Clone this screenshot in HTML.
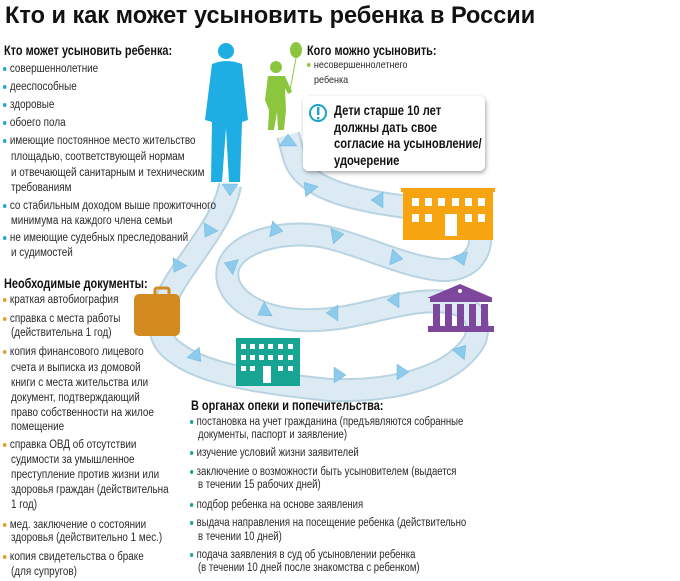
<!DOCTYPE html>
<html><head><meta charset="utf-8"><style>
body{margin:0;width:680px;height:581px;background:#fff;position:relative;overflow:hidden;font-family:"Liberation Sans Narrow","Liberation Sans",sans-serif;color:#2a2a2a}
.t{position:absolute;white-space:nowrap;font-size:11.5px;transform:scaleX(.86);transform-origin:0 50%;line-height:14px}
.bt{transform:scaleX(.83)}
.h{position:absolute;white-space:nowrap;font-weight:bold;font-size:14px;transform:scaleX(.78);transform-origin:0 50%;color:#111}
.d{display:inline-block;width:4px;height:4px;border-radius:50%;margin-right:4px;vertical-align:middle}
.b{background:#22a5d8}.o{background:#e79a25}.g{background:#16a592}.l{background:#8cc63f}
svg{position:absolute;left:0;top:0}
</style></head><body>
<svg width="680" height="581">
<defs><filter id="sh"><feDropShadow dx="1" dy="2" stdDeviation="2" flood-opacity=".35"/></filter></defs>
<path d="M230,185 C225,215 200,245 180,275 C160,305 150,335 175,352 C200,372 250,382 330,390 C400,392 455,375 475,340 C485,310 460,298 420,302 C380,306 350,322 300,320 C255,318 222,295 228,268 C235,240 290,228 330,238 C370,248 400,265 440,270 C475,272 485,245 478,230 C470,212 420,210 380,203 C340,196 305,185 295,160 L288,135" fill="none" stroke="#b8d4e2" stroke-width="24"/>
<path d="M230,185 C225,215 200,245 180,275 C160,305 150,335 175,352 C200,372 250,382 330,390 C400,392 455,375 475,340 C485,310 460,298 420,302 C380,306 350,322 300,320 C255,318 222,295 228,268 C235,240 290,228 330,238 C370,248 400,265 440,270 C475,272 485,245 478,230 C470,212 420,210 380,203 C340,196 305,185 295,160 L288,135" fill="none" stroke="#dcebf3" stroke-width="20"/>
<g fill="#8ccbeb" stroke="#6fb6dc" stroke-width=".5">
<polygon points="-8,-6 8,-6 0,6" transform="translate(230,190)"/>
<polygon points="-8,-6 8,-6 0,6" transform="translate(208,232) rotate(30)"/>
<polygon points="-8,-6 8,-6 0,6" transform="translate(177,267) rotate(30)"/>
<polygon points="-8,-6 8,-6 0,6" transform="translate(197,357) rotate(-40)"/>
<polygon points="-8,-6 8,-6 0,6" transform="translate(340,375) rotate(-90)"/>
<polygon points="-8,-6 8,-6 0,6" transform="translate(403,372) rotate(-90)"/>
<polygon points="-8,-6 8,-6 0,6" transform="translate(462,350) rotate(-140)"/>
<polygon points="-8,-6 8,-6 0,6" transform="translate(393,300) rotate(90)"/>
<polygon points="-8,-6 8,-6 0,6" transform="translate(332,313) rotate(90)"/>
<polygon points="-8,-6 8,-6 0,6" transform="translate(263,312) rotate(60)"/>
<polygon points="-8,-6 8,-6 0,6" transform="translate(230,265) rotate(110)"/>
<polygon points="-8,-6 8,-6 0,6" transform="translate(277,230) rotate(-80)"/>
<polygon points="-8,-6 8,-6 0,6" transform="translate(338,235) rotate(-100)"/>
<polygon points="-8,-6 8,-6 0,6" transform="translate(397,258) rotate(-80)"/>
<polygon points="-8,-6 8,-6 0,6" transform="translate(462,260) rotate(-20)"/>
<polygon points="-8,-6 8,-6 0,6" transform="translate(377,200) rotate(90)"/>
<polygon points="-8,-6 8,-6 0,6" transform="translate(308,187) rotate(140)"/>
<polygon points="-9,6 9,6 0,-6" transform="translate(288,140)"/>
</g>
<g fill="#1faee3"><circle cx="226" cy="51" r="8"/><path d="M212,64 Q226,58 242,64 L248,120 L242,122 L240,182 L229,182 L226,128 L222,182 L211,182 L212,122 L205,120 Z"/></g>
<g fill="#8cc63f"><circle cx="276" cy="67" r="6"/><path d="M268,76 L285,76 L292,92 L288,94 L285,88 L286,110 L284,130 L278,130 L277,112 L274,130 L268,130 L269,110 L265,100 Z"/><ellipse cx="296" cy="50" rx="6" ry="8"/></g>
<line x1="296" y1="58" x2="290" y2="90" stroke="#8cc63f" stroke-width="1"/>
<rect x="303" y="96" width="182" height="75" rx="6" fill="#fff" filter="url(#sh)"/>
<circle cx="318" cy="113" r="8" fill="#fff" stroke="#1aa3c9" stroke-width="2"/>
<rect x="317" y="107" width="2.4" height="8" fill="#1aa3c9"/><rect x="317" y="117" width="2.4" height="2.4" fill="#1aa3c9"/>
<rect x="403" y="190" width="90" height="50" fill="#f6a511"/><rect x="401" y="188" width="94" height="4" fill="#f6a511"/>
<g fill="#fff"><rect x="412" y="198" width="7" height="8"/><rect x="425" y="198" width="7" height="8"/><rect x="438" y="198" width="7" height="8"/><rect x="452" y="198" width="7" height="8"/><rect x="465" y="198" width="7" height="8"/><rect x="478" y="198" width="7" height="8"/><rect x="412" y="214" width="7" height="8"/><rect x="425" y="214" width="7" height="8"/><rect x="445" y="214" width="12" height="22"/><rect x="465" y="214" width="7" height="8"/><rect x="478" y="214" width="7" height="8"/></g>
<g fill="#7d479d"><polygon points="460,284 493,298 427,298"/><rect x="430" y="298" width="62" height="4"/><rect x="433" y="304" width="7" height="22"/><rect x="445" y="304" width="7" height="22"/><rect x="457" y="304" width="7" height="22"/><rect x="469" y="304" width="7" height="22"/><rect x="481" y="304" width="7" height="22"/><rect x="428" y="326" width="66" height="6"/></g>
<circle cx="460" cy="291" r="2" fill="#fff"/>
<rect x="236" y="338" width="64" height="48" fill="#17a493"/>
<g fill="#fff"><rect x="241" y="344" width="5" height="5"/><rect x="250" y="344" width="5" height="5"/><rect x="259" y="344" width="5" height="5"/><rect x="268" y="344" width="5" height="5"/><rect x="278" y="344" width="5" height="5"/><rect x="288" y="344" width="5" height="5"/><rect x="241" y="355" width="5" height="5"/><rect x="250" y="355" width="5" height="5"/><rect x="259" y="355" width="5" height="5"/><rect x="268" y="355" width="5" height="5"/><rect x="278" y="355" width="5" height="5"/><rect x="288" y="355" width="5" height="5"/><rect x="241" y="366" width="5" height="5"/><rect x="250" y="366" width="5" height="5"/><rect x="263" y="366" width="8" height="17"/><rect x="278" y="366" width="5" height="5"/><rect x="288" y="366" width="5" height="5"/></g>
<rect x="155" y="288" width="14" height="8" rx="2" fill="none" stroke="#d38a1e" stroke-width="3"/>
<rect x="134" y="294" width="46" height="42" rx="5" fill="#d38a1e"/>
</svg>

<div class="h" style="left:5px;top:2px;font-size:24px;transform:scaleX(.98)">Кто и как может усыновить ребенка в России</div>

<div class="h" style="left:4px;top:42px">Кто может усыновить ребенка:</div>
<div class="t" style="left:3px;top:62px"><span class="d b"></span>совершеннолетние</div>
<div class="t" style="left:3px;top:80px"><span class="d b"></span>дееспособные</div>
<div class="t" style="left:3px;top:98px"><span class="d b"></span>здоровые</div>
<div class="t" style="left:3px;top:116px"><span class="d b"></span>обоего пола</div>
<div class="t" style="left:3px;top:134px"><span class="d b"></span>имеющие постоянное место жительство</div>
<div class="t" style="left:11px;top:150px">площадью, соответствующей нормам</div>
<div class="t" style="left:11px;top:166px">и отвечающей санитарным и техническим</div>
<div class="t" style="left:11px;top:181px">требованиям</div>
<div class="t" style="left:3px;top:199px"><span class="d b"></span>со стабильным доходом выше прожиточного</div>
<div class="t" style="left:11px;top:214px">минимума на каждого члена семьи</div>
<div class="t" style="left:3px;top:231px"><span class="d b"></span>не имеющие судебных преследований</div>
<div class="t" style="left:11px;top:246px">и судимостей</div>

<div class="h" style="left:4px;top:275px">Необходимые документы:</div>
<div class="t" style="left:3px;top:293px"><span class="d o"></span>краткая автобиография</div>
<div class="t" style="left:3px;top:312px"><span class="d o"></span>справка с места работы</div>
<div class="t" style="left:11px;top:326px">(действительна 1 год)</div>
<div class="t" style="left:3px;top:345px"><span class="d o"></span>копия финансового лицевого</div>
<div class="t" style="left:11px;top:361px">счета и выписка из домовой</div>
<div class="t" style="left:11px;top:376px">книги с места жительства или</div>
<div class="t" style="left:11px;top:391px">документ, подтверждающий</div>
<div class="t" style="left:11px;top:406px">право собственности на жилое</div>
<div class="t" style="left:11px;top:420px">помещение</div>
<div class="t" style="left:3px;top:438px"><span class="d o"></span>справка ОВД об отсутствии</div>
<div class="t" style="left:11px;top:453px">судимости за умышленное</div>
<div class="t" style="left:11px;top:468px">преступление против жизни или</div>
<div class="t" style="left:11px;top:483px">здоровья граждан (действительна</div>
<div class="t" style="left:11px;top:498px">1 год)</div>
<div class="t" style="left:3px;top:518px"><span class="d o"></span>мед. заключение о состоянии</div>
<div class="t" style="left:11px;top:531px">здоровья (действительно 1 мес.)</div>
<div class="t" style="left:3px;top:550px"><span class="d o"></span>копия свидетельства о браке</div>
<div class="t" style="left:11px;top:565px">(для супругов)</div>

<div class="h" style="left:307px;top:42px">Кого можно усыновить:</div>
<div class="t" style="left:307px;top:58px;font-size:10.5px"><span class="d l"></span>несовершеннолетнего</div>
<div class="t" style="left:314px;top:73px;font-size:10.5px">ребенка</div>
<div class="h" style="left:334px;top:102px;line-height:16.5px;transform:scaleX(.8)">Дети старше 10 лет<br>должны дать свое<br>согласие на усыновление/<br>удочерение</div>

<div class="h" style="left:191px;top:397px">В органах опеки и попечительства:</div>
<div class="t bt" style="left:190px;top:415px"><span class="d g"></span>постановка на учет гражданина (предъявляются собранные</div>
<div class="t bt" style="left:198px;top:428px">документы, паспорт и заявление)</div>
<div class="t bt" style="left:190px;top:446px"><span class="d g"></span>изучение условий жизни заявителей</div>
<div class="t bt" style="left:190px;top:465px"><span class="d g"></span>заключение о возможности быть усыновителем (выдается</div>
<div class="t bt" style="left:198px;top:478px">в течении 15 рабочих дней)</div>
<div class="t bt" style="left:190px;top:498px"><span class="d g"></span>подбор ребенка на основе заявления</div>
<div class="t bt" style="left:190px;top:516px"><span class="d g"></span>выдача направления на посещение ребенка (действительно</div>
<div class="t bt" style="left:198px;top:530px">в течении 10 дней)</div>
<div class="t bt" style="left:190px;top:548px"><span class="d g"></span>подача заявления в суд об усыновлении ребенка</div>
<div class="t bt" style="left:198px;top:561px">(в течении 10 дней после знакомства с ребенком)</div>
</body></html>
